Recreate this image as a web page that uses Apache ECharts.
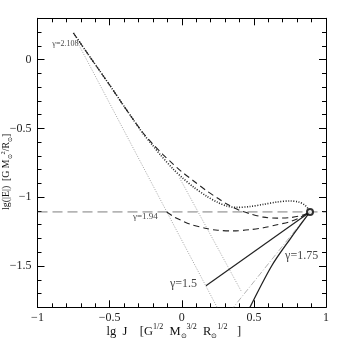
<!DOCTYPE html>
<html><head><meta charset="utf-8">
<script src="https://cdn.jsdelivr.net/npm/echarts@6/dist/echarts.min.js"></script>
<style>html,body{margin:0;padding:0;background:#fff}#c{width:345px;height:345px}</style>
</head><body><div id="c"></div>
<script>
// ---- data ----
const xTickValues = [-1, -0.5, 0, 0.5, 1];
const yMajorTicks = [-1.5, -1, -0.5, 0];
const yMinorTicks = [-1.8,-1.7,-1.6,-1.4,-1.3,-1.2,-1.1,-0.9,-0.8,-0.7,-0.6,-0.4,-0.3,-0.2,-0.1,0.1,0.2,0.3];

const gamma2108Dotted = [[-0.751,0.193],[-0.66,0.055],[-0.578,-0.068],[-0.50,-0.185],[-0.416,-0.315],[-0.34,-0.43],[-0.27,-0.535],[-0.20,-0.625],[-0.15,-0.69],[-0.058,-0.797],[0.0,-0.855],[0.08,-0.925],[0.173,-0.993],[0.25,-1.038],[0.312,-1.064],[0.38,-1.074],[0.473,-1.068],[0.566,-1.052],[0.66,-1.035],[0.751,-1.027],[0.81,-1.035],[0.85,-1.055],[0.877,-1.085],[0.889,-1.107]];
const gamma2108Dashed = [[-0.751,0.193],[-0.66,0.055],[-0.578,-0.068],[-0.50,-0.185],[-0.416,-0.315],[-0.34,-0.43],[-0.27,-0.53],[-0.20,-0.615],[-0.13,-0.69],[-0.058,-0.761],[0.0,-0.815],[0.08,-0.88],[0.173,-0.954],[0.25,-1.008],[0.312,-1.05],[0.40,-1.095],[0.473,-1.12],[0.566,-1.145],[0.66,-1.152],[0.75,-1.148],[0.81,-1.138],[0.86,-1.122],[0.889,-1.107]];
const gamma194Dashed = [[-0.104,-1.107],[-0.05,-1.145],[0.0,-1.17],[0.058,-1.196],[0.173,-1.228],[0.25,-1.240],[0.358,-1.245],[0.473,-1.236],[0.566,-1.222],[0.66,-1.200],[0.751,-1.178],[0.82,-1.148],[0.889,-1.107]];
const gamma15Line = [[0.168,-1.643],[0.889,-1.107]];
const gamma175Line = [[0.473,-1.8],[0.624,-1.498],[0.751,-1.304],[0.889,-1.107]];
const lightLineA = [[-0.72,0.12],[0.245,-1.8]];
const lightLineB = [[-0.015,-0.86],[0.416,-1.69]];
const dashDotLine = [[0.889,-1.107],[0.358,-1.8]];
const horizontalLine = [[-1,-1.107],[1,-1.107]];
const endPoint = [[0.889,-1.107]];
const gammaLabels = [
  {name:'γ=2.108', at:[-0.751,0.193]},
  {name:'γ=1.94', at:[-0.104,-1.107]},
  {name:'γ=1.5', at:[0.168,-1.643]},
  {name:'γ=1.75', at:[0.751,-1.304]}
];

// ---- styles ----
const FONT = 'Liberation Serif';
const fmt = v => (v < 0 ? '\u2212' : '') + Math.abs(v);
const labelStyles = [
  {fontSize:8, align:'right', offset:[5,11]},
  {fontSize:9, align:'right', offset:[-9,5]},
  {fontSize:12, align:'right', offset:[-9,-1.5]},
  {fontSize:12, align:'left', offset:[-5,17]}
];
const richX = {
  t:{fontFamily:FONT, fontSize:12.5, color:'#111', lineHeight:16},
  sp:{fontFamily:FONT, fontSize:8, color:'#111', verticalAlign:'top', lineHeight:10},
  sb:{fontFamily:FONT, fontSize:7, color:'#111', verticalAlign:'bottom', lineHeight:10},
  e:{fontFamily:FONT, fontSize:12, padding:[0,16,0,0]}
};
const richY = {
  t:{fontFamily:FONT, fontSize:9.8, color:'#111', lineHeight:14},
  sp:{fontFamily:FONT, fontSize:6.5, color:'#111', verticalAlign:'top', lineHeight:9},
  sb:{fontFamily:FONT, fontSize:5.5, color:'#111', verticalAlign:'bottom', lineHeight:9},
  e:{fontFamily:FONT, fontSize:9, padding:[0,18,0,0]}
};

function lineSeries(data, color, width, type, smooth){
  return {type:'line', data:data, showSymbol:false, symbol:'none', smooth:smooth||false,
    lineStyle:{color:color, width:width, type:type}, silent:true, animation:false, z:3};
}

const baseX = {type:'value', min:-1, max:1, interval:0.5, splitLine:{show:false},
  axisLine:{show:true, onZero:false, lineStyle:{color:'#000', width:1}},
  axisTick:{show:true, inside:true, length:7, lineStyle:{color:'#000'}},
  minorTick:{show:true, splitNumber:5, length:4, lineStyle:{color:'#000'}}};

function yAx(pos, major, showLine){
  return {type:'value', min:-1.8, max:0.3, position:pos, splitLine:{show:false},
    axisLine:{show:showLine, onZero:false, lineStyle:{color:'#000', width:1}},
    axisTick:{show:true, inside:true, length:major?7:4, customValues:major?yMajorTicks:yMinorTicks, lineStyle:{color:'#000'}},
    axisLabel:{show:false}};
}

const yLeft = yAx('left', true, true);
yLeft.axisLabel = {show:true, customValues:yMajorTicks, formatter:fmt, fontFamily:FONT, fontSize:12, color:'#222', margin:6};
yLeft.name = '{t|lg(|E|)  [G M}{sb|⊙}{sp|2}{t|/R}{sb|⊙}{t|]}{e|}';
yLeft.nameLocation = 'middle';
yLeft.nameRotate = 90;
yLeft.nameGap = 24;
yLeft.nameMoveOverlap = false;
yLeft.nameTextStyle = {rich:richY};

const option = {
  animation:false,
  grid:{left:37.5, right:19, top:18.3, bottom:37.7, containLabel:false, outerBoundsMode:'none'},
  xAxis:[
    Object.assign({}, baseX, {position:'bottom',
      axisLabel:{show:true, formatter:fmt, fontFamily:FONT, fontSize:12, color:'#222', margin:5},
      name:'{t|lg  J    [G}{sp|1/2}{t|  M}{sb|⊙}{sp|3/2}{t|  R}{sb|⊙}{sp|1/2}{t|   ]}{e|}',
      nameLocation:'middle', nameGap:16, nameMoveOverlap:false, nameTextStyle:{rich:richX}}),
    Object.assign({}, baseX, {position:'top', axisLabel:{show:false}})
  ],
  yAxis:[ yLeft, yAx('left', false, false), yAx('right', true, true), yAx('right', false, false) ],
  series:[
    lineSeries(horizontalLine, '#444', 0.7, [10,5]),
    lineSeries(lightLineA, '#999', 0.9, [1,1.5]),
    lineSeries(lightLineB, '#999', 0.9, [1,1.5]),
    lineSeries(dashDotLine, '#aaa', 0.9, [6,2,1,2]),
    lineSeries(gamma2108Dashed, '#222', 1.1, [6,4], 0.3),
    lineSeries(gamma2108Dotted, '#222', 1.6, [1,1.6], 0.3),
    lineSeries(gamma194Dashed, '#222', 1.1, [6,4], 0.3),
    lineSeries(gamma15Line, '#222', 1.2, 'solid'),
    lineSeries(gamma175Line, '#222', 1.3, 'solid', 0.3),
    {type:'scatter', data:endPoint, symbol:'emptyCircle', symbolSize:6,
      itemStyle:{color:'#000', borderColor:'#000', borderWidth:1.6}, z:5, silent:true},
    {type:'scatter', symbolSize:0, silent:true, z:6,
      data:gammaLabels.map((g,i)=>({name:g.name, value:g.at,
        label:{show:true, position:'inside', formatter:g.name, fontFamily:FONT, color:'#111',
          fontSize:labelStyles[i].fontSize, align:labelStyles[i].align, verticalAlign:'middle',
          offset:labelStyles[i].offset}}))}
  ]
};
const chart = echarts.init(document.getElementById('c'), null, {renderer:'canvas'});
chart.setOption(option);
</script></body></html>
